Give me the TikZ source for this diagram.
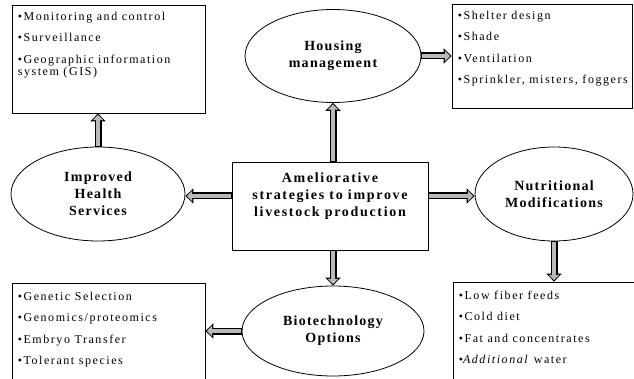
\documentclass[tikz,border=0pt]{standalone}
\usepackage{fontspec}
\setmainfont{Liberation Serif}
\usetikzlibrary{shapes.geometric,arrows.meta}
\begin{document}
\begin{tikzpicture}[x=1pt,y=-1pt,
  box/.style={draw, line width=0.8pt, rectangle, inner sep=0pt},
  oval/.style={draw, ellipse, line width=0.8pt, inner sep=0pt, font=\bfseries\fontsize{14}{17}\selectfont\addfontfeature{LetterSpace=9}, align=center},
  items/.style={anchor=north west, align=left, font=\fontsize{12}{12.5}\selectfont\addfontfeature{LetterSpace=13}, inner sep=0pt},
  fatout/.style={line width=7pt, -{Triangle[length=8pt,width=15pt]}},
  fatin/.style={line width=4.6pt, gray!55, -{Triangle[length=5.4pt,width=10.4pt]}, shorten >=1.4pt, shorten <=0.9pt}
]
\useasboundingbox (0,0) rectangle (634,379);

% boxes
\node[box, minimum width=193pt, minimum height=108pt] (tl) at (108.5,59) {};
\node[box, minimum width=180pt, minimum height=104pt] (tr) at (542,56) {};
\node[box, minimum width=193pt, minimum height=112pt] (bl) at (108.5,339) {};
\node[box, minimum width=184pt, minimum height=112pt] (br) at (545,338) {};
\node[box, minimum width=196pt, minimum height=88pt] (c) at (330,206) {};
\node[align=center, inner sep=0pt, font=\bfseries\fontsize{14}{17}\selectfont\addfontfeature{LetterSpace=12}] (ct) at (330,196) {Ameliorative\\strategies to improve\\livestock production};

% ellipses
\node[oval, minimum width=176pt, minimum height=93pt] (hm) at (333,56) {Housing\\management};
\node[oval, minimum width=174pt, minimum height=94pt] (ih) at (98,194) {Improved\\Health\\Services};
\node[oval, minimum width=158pt, minimum height=94pt] (nm) at (554,194) {Nutritional\\Modifications};
\node[oval, minimum width=182pt, minimum height=90pt] (bo) at (333,331) {Biotechnology\\Options};

% item lists
\node[items] (tlt) at ([xshift=6pt,yshift=-7pt]tl.north west) {\textbullet Monitoring and control\\[9pt]\textbullet Surveillance\\[9pt]\textbullet Geographic information\\system (GIS)};
\node[items] (trt) at ([xshift=6pt,yshift=-7pt]tr.north west) {\textbullet Shelter design\\[9pt]\textbullet Shade\\[9pt]\textbullet Ventilation\\[9pt]\textbullet Sprinkler, misters, foggers};
\node[items] (blt) at ([xshift=6pt,yshift=-9pt]bl.north west) {\textbullet Genetic Selection\\[9pt]\textbullet Genomics/proteomics\\[9pt]\textbullet Embryo Transfer\\[9pt]\textbullet Tolerant species};
\node[items] (brt) at ([xshift=6pt,yshift=-9pt]br.north west) {\textbullet Low fiber feeds\\[9pt]\textbullet Cold diet\\[9pt]\textbullet Fat and concentrates\\[9pt]\textbullet \textit{Additional} water};

% arrows
\foreach \s/\t in {{hm.south |- c.north}/hm.south, {ct.center -| c.west}/{ct.center -| ih.east}, {ct.center -| c.east}/{ct.center -| nm.west}, {bo.north |- c.south}/bo.north, hm.east/{hm.east -| tr.west}, ih.north/{ih.north |- tl.south}, nm.south/{nm.south |- br.north}, bo.west/{bo.west -| bl.east}}{
  \draw[fatout] (\s) -- (\t);
  \draw[fatin] (\s) -- (\t);
}
\end{tikzpicture}
\end{document}
